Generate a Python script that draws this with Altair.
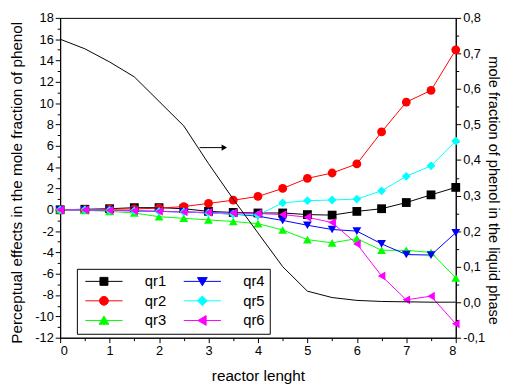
import altair as alt
import pandas as pd

x_vals = [0, 0.5, 1, 1.5, 2, 2.5, 3, 3.5, 4, 4.5, 5, 5.5, 6, 6.5, 7, 7.5, 8]
qr1 = [0, 0.05, 0.1, 0.2, 0.2, 0.1, -0.15, -0.25, -0.3, -0.3, -0.45, -0.5, -0.15, 0.1, 0.68, 1.4, 2.1]
qr2 = [0, 0.02, 0.05, 0.08, 0.15, 0.3, 0.6, 0.9, 1.25, 2.0, 2.95, 3.45, 4.3, 7.3, 10.1, 11.2, 15.0]
qr3 = [0, -0.05, -0.15, -0.3, -0.65, -0.8, -0.95, -1.1, -1.3, -1.9, -2.8, -3.1, -2.7, -3.8, -3.8, -4.0, -6.4]
qr4 = [0, 0, -0.05, -0.1, -0.15, -0.2, -0.3, -0.4, -0.6, -1.0, -1.45, -1.85, -2.0, -3.2, -4.2, -4.25, -2.15]
qr5 = [0, 0, -0.05, -0.1, -0.15, -0.2, -0.3, -0.4, -0.5, 0.65, 0.85, 0.92, 1.0, 1.78, 3.14, 4.12, 6.45]
qr6 = [0, -0.02, -0.05, -0.1, -0.15, -0.2, -0.25, -0.3, -0.35, -0.45, -0.7, -1.2, -3.2, -6.2, -8.45, -8.1, -10.7]
phenol = [0.74, 0.713, 0.676, 0.634, 0.565, 0.496, 0.39, 0.29, 0.195, 0.1, 0.031, 0.013, 0.005, 0.002, 0.001, 0.0, 0.0]

series_names = ["qr1", "qr2", "qr3", "qr4", "qr5", "qr6"]
series_colors = ["#000000", "#ff0000", "#00ff00", "#0000ff", "#00ffff", "#ff00ff"]
series_shapes = ["square", "circle", "triangle-up", "triangle-down", "diamond", "triangle-left"]
legend_paths = [
    "M-4.2,0H4.2M-0.9,-0.9H0.9V0.9H-0.9Z",
    "M-4.2,0H4.2M-1,0A1,1,0,1,1,1,0A1,1,0,1,1,-1,0Z",
    "M-4.2,0H4.2M0,-1L1.1,0.85H-1.1Z",
    "M-4.2,0H4.2M0,1L1.1,-0.85H-1.1Z",
    "M-4.2,0H4.2M0,-1.1L1.1,0L0,1.1L-1.1,0Z",
    "M-4.2,0H4.2M-1,0L0.85,-1.1V1.1Z",
]

arrow_x = [2.82, 3.32]
arrow_y = [0.435, 0.435]

series_vals = [qr1, qr2, qr3, qr4, qr5, qr6]
rows = []
for name, vals in zip(series_names, series_vals):
    for xv, v in zip(x_vals, vals):
        rows.append({"x": xv, "v": v, "s": name})
df = pd.DataFrame(rows)
df_curve = pd.DataFrame({"x": x_vals, "p": phenol})
df_arrow = pd.DataFrame({"x": [arrow_x[0]], "x2": [arrow_x[1]], "p": [arrow_y[0]]})
df_head = pd.DataFrame({"x": [arrow_x[1]], "p": [arrow_y[1]]})

FONT = "Arial"

x_axis = alt.Axis(
    title="reactor lenght",
    values=x_vals,
    labelExpr="datum.value % 1 === 0 ? toString(datum.value) : ''",
    tickSize={"condition": {"test": "datum.value % 1 === 0", "value": 5}, "value": 3},
    labelOverlap=False,
    titlePadding=11,
)
x_enc = alt.X("x:Q", scale=alt.Scale(domain=[0, 8], nice=False), axis=x_axis)

left_vals = list(range(-12, 19))
y_left_axis = alt.Axis(
    title="Perceptual effects in the mole fraction of phenol",
    orient="left",
    values=left_vals,
    labelExpr="datum.value % 2 === 0 ? toString(datum.value) : ''",
    tickSize={"condition": {"test": "datum.value % 2 === 0", "value": 5}, "value": 3},
    labelOverlap=False,
    titlePadding=10,
    titleY=167,
)
y_left = alt.Y("v:Q", scale=alt.Scale(domain=[-12, 18], nice=False), axis=y_left_axis)

color_scale = alt.Scale(domain=series_names, range=series_colors)
shape_scale = alt.Scale(domain=series_names, range=series_shapes)

lines = alt.Chart(df).mark_line(strokeWidth=1).encode(
    x=x_enc, y=y_left,
    color=alt.Color("s:N", scale=color_scale, legend=None),
    detail="s:N",
)
points = alt.Chart(df).mark_point(filled=True, size=80, opacity=1).encode(
    x=x_enc, y=y_left,
    color=alt.Color("s:N", scale=color_scale, legend=None),
    shape=alt.Shape("s:N", scale=shape_scale, legend=None),
)

leg = alt.Legend(
    title=None, orient="none", legendX=17, legendY=255, columns=2,
    symbolSize=81, symbolStrokeWidth=1, symbolOpacity=1, symbolOffset=15,
    labelFontSize=15, labelFont=FONT, labelOffset=34, labelColor="black",
    columnPadding=14, rowPadding=4, padding=5,
    strokeColor="black", fillColor="white",
)
legend_layer = alt.Chart(df).mark_point(filled=True).encode(
    fill=alt.Fill("s:N", scale=alt.Scale(domain=series_names, range=series_colors), legend=leg),
    stroke=alt.Stroke("s:N", scale=alt.Scale(domain=series_names, range=series_colors), legend=leg),
    shape=alt.Shape("s:N", scale=alt.Scale(domain=series_names, range=legend_paths), legend=leg),
).transform_filter("false")

left = alt.layer(lines, points, legend_layer).resolve_scale(
    shape="independent", fill="independent", stroke="independent"
)

right_major = [round(-0.1 + 0.1 * i, 1) for i in range(10)]
right_vals = [round(-0.1 + 0.05 * i, 2) for i in range(19)]
major_test = "indexof([" + ",".join(str(v) for v in right_major) + "], round(datum.value * 100) / 100) >= 0"
y_right_axis = alt.Axis(
    title="mole fraction of phenol in the liquid phase",
    orient="right",
    values=right_vals,
    labelExpr="(" + major_test + ") ? replace(replace(format(datum.value, '.1f'), '.', ','), '\u2212', '-') : ''",
    tickSize={"condition": {"test": major_test, "value": 5}, "value": 3},
    labelOverlap=False,
    titlePadding=1,
    titleFontSize=14.8,
    titleY=175,
)
y_right = alt.Y("p:Q", scale=alt.Scale(domain=[-0.1, 0.8], nice=False), axis=y_right_axis)

curve = alt.Chart(df_curve).mark_line(color="black", strokeWidth=1).encode(
    x=x_enc, y=y_right,
)
arrow = alt.Chart(df_arrow).mark_rule(color="black", strokeWidth=1).encode(
    x=x_enc, x2="x2:Q", y=y_right,
)
head = alt.Chart(df_head).mark_point(shape="triangle-right", filled=True, color="black", size=40, opacity=1).encode(
    x=x_enc, y=y_right,
)
right = alt.layer(curve, arrow, head)

chart = alt.layer(left, right).resolve_scale(y="independent").properties(
    width=402, height=325,
    padding={"left": 53, "top": 7, "right": 47, "bottom": 45},
    autosize="none",
).configure_view(stroke="black", strokeWidth=1).configure_axis(
    grid=False, domainColor="black", tickColor="black", labelColor="black",
    titleColor="black", labelFont=FONT, titleFont=FONT, labelFontSize=13,
    titleFontSize=15.5, titleFontWeight="normal", labelPadding=2, domainWidth=1, tickWidth=1,
    labelOverlap=False,
).configure_legend(labelFont=FONT)

chart.save("out.html", embed_options={"renderer": "svg", "actions": False})
